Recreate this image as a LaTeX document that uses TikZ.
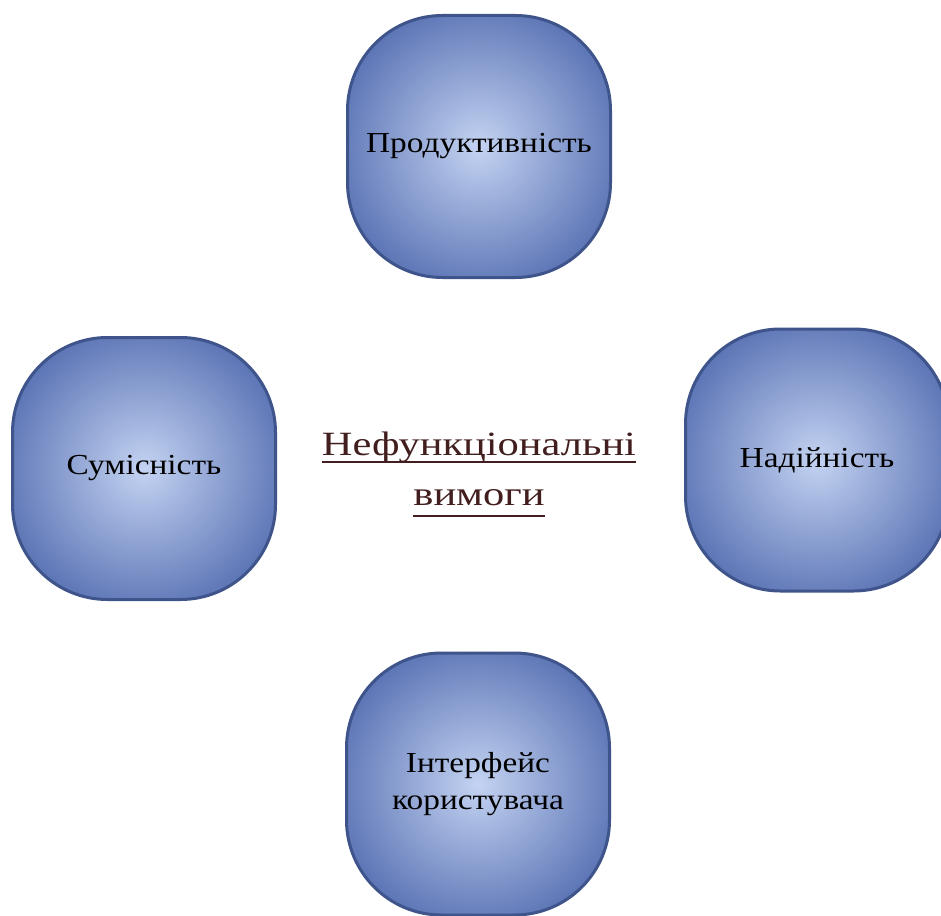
\documentclass[tikz,border=0pt]{standalone}
\usepackage{fontspec}
\setmainfont{Liberation Serif}
\newfontfamily\boxfont[FakeStretch=1.15]{Liberation Serif}
\newfontfamily\titlefont[FakeStretch=1.25]{Liberation Serif}
\definecolor{boxedge}{RGB}{62,84,138}
\definecolor{boxout}{RGB}{80,106,174}
\definecolor{boxin}{RGB}{196,211,242}
\definecolor{titlecol}{RGB}{66,30,30}
\pgfdeclareradialshading{boxshade}{\pgfpoint{0bp}{0bp}}{color(0bp)=(boxin); color(31bp)=(boxout); color(60bp)=(boxout)}
\tikzset{
  box/.style={draw=boxedge, line width=3pt, rounded corners=95pt,
    minimum width=263pt, minimum height=262pt, shading=boxshade,
    font=\boxfont\fontsize{29}{37}\selectfont, align=center, text=black, inner sep=0pt},
  title/.style={text=titlecol, font=\titlefont\fontsize{34}{40}\selectfont, inner sep=0pt, anchor=base},
  uline/.style={draw=titlecol, line width=1.8pt}
}
\begin{document}
\begin{tikzpicture}[x=1pt,y=-1pt]
\useasboundingbox[fill=white] (0,0) rectangle (941,915);
\node[box] (perf) at (479,146.5) {Продуктивність};
\node[box] (compat) at (144,468.5) {Сумісність};
\node[box] (rel) at (817,460) {Надійність};
\node[box] (ui) at (478,784) {Інтерфейс\\користувача};
\node[title] (t1) at (479,455) {Нефункціональні};
\node[title] (t2) at (479,505) {вимоги};
\draw[uline] ([yshift=-7pt]t1.base west) -- ([yshift=-7pt]t1.base east);
\draw[uline] ([yshift=-11pt]t2.base west) -- ([yshift=-11pt]t2.base east);
\end{tikzpicture}
\end{document}
